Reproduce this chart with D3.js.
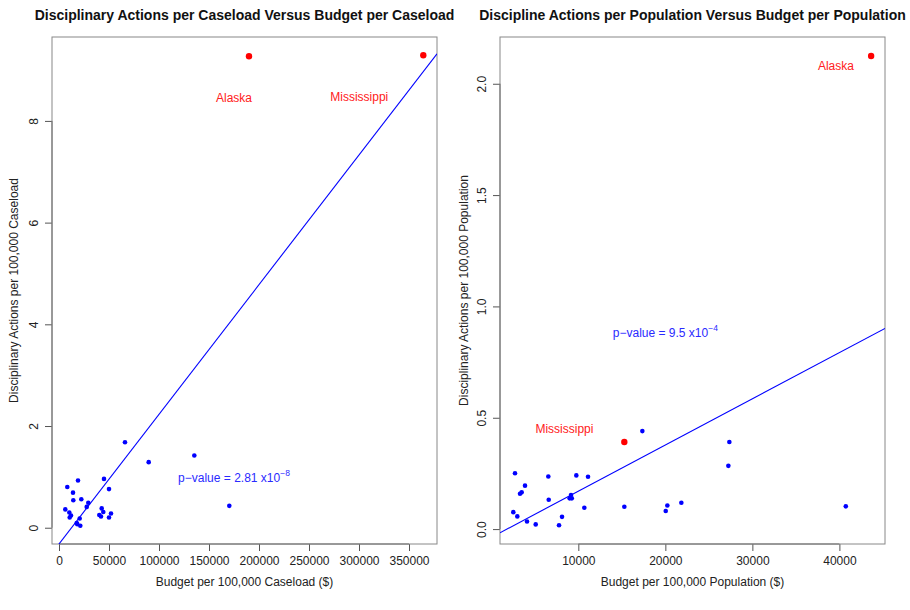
<!DOCTYPE html>
<html><head><meta charset="utf-8">
<script src="https://cdn.jsdelivr.net/npm/d3@7/dist/d3.min.js"></script>
<style>body{margin:0;background:#fff}svg{display:block}text{font-family:"Liberation Sans",Arial,Helvetica,sans-serif}</style>
</head><body>
<svg id="c" width="910" height="610"></svg>
<script>
// Left panel: per caseload
const caseBudget = [66000,135300,89700,170300,8300,19000,14000,14300,22300,45000,50000,29300,27700,6300,10300,12000,10700,20700,17700,21300,18300,42700,40300,42000,44300,50000,52000];
const caseActions = [1.68,1.42,1.29,0.43,0.80,0.93,0.69,0.54,0.56,0.96,0.76,0.49,0.41,0.36,0.30,0.24,0.20,0.18,0.09,0.04,0.07,0.38,0.25,0.22,0.31,0.20,0.28];
const caseHighlightBudget = [190000,364300];
const caseHighlightActions = [9.27,9.29];
const caseHighlightNames = ["Alaska","Mississippi"];
const caseLabelPos = [[175000,8.46],[300300,8.47]];
const caseFit = {intercept:-0.32, slope:2.55e-5};
const casePText = ["p\u2212value = 2.81 x10","\u22128"];
const casePPos = [175000,0.98];
const caseXTicks = [0,50000,100000,150000,200000,250000,300000,350000];
const caseYTicks = [0,2,4,6,8];

// Right panel: per population
const popBudget = [2724,3874,3299,3490,2529,2989,4103,5103,6552,6598,7782,8126,9161,9000,9250,9770,10690,11115,15287,17356,20046,20230,21839,27241,27356,40736];
const popActions = [0.251,0.195,0.159,0.165,0.076,0.057,0.034,0.021,0.236,0.132,0.017,0.055,0.153,0.138,0.138,0.241,0.096,0.235,0.100,0.440,0.081,0.106,0.118,0.284,0.391,0.102];
const popHighlightBudget = [43644,15287];
const popHighlightActions = [2.125,0.391];
const popHighlightNames = ["Alaska","Mississippi"];
const popLabelPos = [[39600,2.08],[8400,0.45]];
const popFit = {intercept:-0.0373, slope:2.074e-5};
const popPText = ["p\u2212value = 9.5 x10","\u22124"];
const popPPos = [20000,0.88];
const popXTicks = [10000,20000,30000,40000];
const popYTicks = [0,0.5,1.0,1.5,2.0];

const svg = d3.select("#c");

function panel(o){
  const x = d3.scaleLinear().domain(o.xd).range([o.left,o.right]);
  const y = d3.scaleLinear().domain(o.yd).range([o.bottom,o.top]);
  const g = svg.append("g");
  const cid = "clip"+o.id;
  svg.append("clipPath").attr("id",cid).append("rect")
    .attr("x",o.left).attr("y",o.top).attr("width",o.right-o.left).attr("height",o.bottom-o.top);

  // title
  g.append("text").attr("x",(o.left+o.right)/2).attr("y",20).attr("text-anchor","middle")
    .attr("font-size","14px").attr("font-weight","bold").attr("fill","#111").text(o.title);

  // axes
  const xa = g.append("g").attr("transform",`translate(0,${o.bottom})`)
    .call(d3.axisBottom(x).tickValues(o.xt).tickSize(7).tickPadding(5).tickFormat(d3.format("d")));
  const ya = g.append("g").attr("transform",`translate(${o.left},0)`)
    .call(d3.axisLeft(y).tickValues(o.yt).tickSize(7).tickFormat(o.yfmt));
  [xa,ya].forEach(a=>{
    a.select(".domain").remove();
    a.selectAll(".tick line").attr("stroke","#555");
    a.selectAll("text").attr("font-size","12px").attr("fill","#222").attr("font-family",'"Liberation Sans",Arial,sans-serif');
  });
  ya.selectAll(".tick text").attr("text-anchor","middle").attr("dy",null)
    .attr("transform","translate(-18,0) rotate(-90)").attr("x",0).attr("y",4);
  // axis lines along first-last tick
  g.append("line").attr("x1",x(o.xt[0])).attr("x2",x(o.xt[o.xt.length-1])).attr("y1",o.bottom).attr("y2",o.bottom).attr("stroke","#555");
  g.append("line").attr("y1",y(o.yt[0])).attr("y2",y(o.yt[o.yt.length-1])).attr("x1",o.left).attr("x2",o.left).attr("stroke","#555");

  // axis titles
  g.append("text").attr("x",(o.left+o.right)/2).attr("y",586).attr("text-anchor","middle")
    .attr("font-size","12px").attr("fill","#222").text(o.xlab);
  g.append("text").attr("transform",`translate(${o.ylabX},${(o.top+o.bottom)/2}) rotate(-90)`)
    .attr("text-anchor","middle").attr("dy","0.35em").attr("font-size","12px").attr("fill","#222").text(o.ylab);

  // box
  g.append("rect").attr("x",o.left).attr("y",o.top).attr("width",o.right-o.left).attr("height",o.bottom-o.top)
    .attr("fill","none").attr("stroke","#888").attr("stroke-width",1);

  // points
  g.selectAll(".pt").data(o.bx.map((v,i)=>[v,o.by[i]])).enter().append("circle")
    .attr("cx",d=>x(d[0])).attr("cy",d=>y(d[1])).attr("r",2.3).attr("fill","#0000ff");
  g.selectAll(".hl").data(o.hx.map((v,i)=>[v,o.hy[i]])).enter().append("circle")
    .attr("cx",d=>x(d[0])).attr("cy",d=>y(d[1])).attr("r",3.2).attr("fill","#ff0000");

  // fit line
  const xd = x.domain();
  g.append("line").attr("clip-path",`url(#${cid})`)
    .attr("x1",x(xd[0])).attr("y1",y(o.fit.intercept+o.fit.slope*xd[0]))
    .attr("x2",x(xd[1])).attr("y2",y(o.fit.intercept+o.fit.slope*xd[1]))
    .attr("stroke","#0000ff").attr("stroke-width",1.1);

  // labels
  o.names.forEach((n,i)=>{
    g.append("text").attr("x",x(o.lp[i][0])).attr("y",y(o.lp[i][1])).attr("dy","0.35em")
      .attr("text-anchor","middle").attr("font-size","12px").attr("fill","#ff2020").text(n);
  });
  const pt = g.append("text").attr("x",x(o.pp[0])).attr("y",y(o.pp[1])).attr("dy","0.35em")
    .attr("text-anchor","middle").attr("font-size","12px").attr("fill","#2a2aff");
  pt.append("tspan").text(o.ptxt[0]);
  pt.append("tspan").attr("font-size","8.5px").attr("dy","-0.75em").text(o.ptxt[1]);
}

panel({id:"L",left:52,right:437,top:37,bottom:544,xd:[-7000,378000],yd:[-0.32,9.65],
  xt:caseXTicks,yt:caseYTicks,yfmt:d3.format("d"),
  title:"Disciplinary Actions per Caseload Versus Budget per Caseload",
  xlab:"Budget per 100,000 Caseload ($)",ylab:"Disciplinary Actions per 100,000 Caseload",ylabX:14,
  bx:caseBudget,by:caseActions,hx:caseHighlightBudget,hy:caseHighlightActions,
  names:caseHighlightNames,lp:caseLabelPos,fit:caseFit,ptxt:casePText,pp:casePPos});

panel({id:"R",left:500,right:885,top:37,bottom:544,xd:[1000,45240],yd:[-0.067,2.21],
  xt:popXTicks,yt:popYTicks,yfmt:d3.format(".1f"),
  title:"Discipline Actions per Population Versus Budget per Population",
  xlab:"Budget per 100,000 Population ($)",ylab:"Disciplinary Actions per 100,000 Population",ylabX:464,
  bx:popBudget,by:popActions,hx:popHighlightBudget,hy:popHighlightActions,
  names:popHighlightNames,lp:popLabelPos,fit:popFit,ptxt:popPText,pp:popPPos});
</script>
</body></html>
